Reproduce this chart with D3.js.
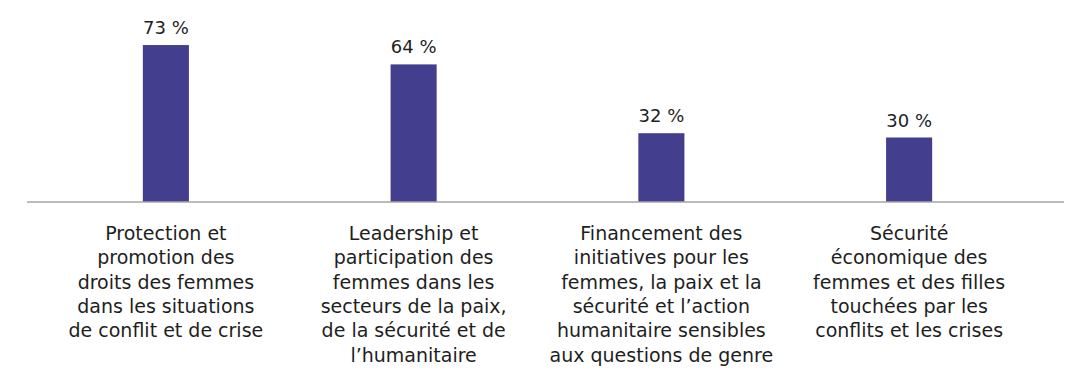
<!DOCTYPE html>
<html>
<head>
<meta charset="utf-8">
<script src="https://cdn.jsdelivr.net/npm/d3@7"></script>
<style>
  html, body { margin: 0; padding: 0; background: #fff; }
  svg { display: block; }
  text { font-family: "DejaVu Sans", "Noto Sans", sans-serif; fill: #1e1e1e; }
</style>
</head>
<body>
<svg id="chart" width="1085" height="371"></svg>
<script>
// Category labels, one entry per line of the wrapped label
const categories = [
  ["Protection et", "promotion des", "droits des femmes", "dans les situations", "de conflit et de crise"],
  ["Leadership et", "participation des", "femmes dans les", "secteurs de la paix,", "de la sécurité et de", "l’humanitaire"],
  ["Financement des", "initiatives pour les", "femmes, la paix et la", "sécurité et l’action", "humanitaire sensibles", "aux questions de genre"],
  ["Sécurité", "économique des", "femmes et des filles", "touchées par les", "conflits et les crises"]
];
const values = [73, 64, 32, 30];
const valueLabels = ["73 %", "64 %", "32 %", "30 %"];

const svg = d3.select("#chart");
const baseY = 202;
const keys = categories.map((c, i) => i);

const x = d3.scaleBand()
  .domain(keys)
  .range([42, 1033])
  .paddingInner(0.814)
  .paddingOuter(0.407);

const y = d3.scaleLinear()
  .domain([0, 100])
  .range([baseY, baseY - 215]);

// Bars
svg.append("g")
  .selectAll("rect")
  .data(values)
  .join("rect")
  .attr("x", (d, i) => x(i))
  .attr("y", d => y(d))
  .attr("width", x.bandwidth())
  .attr("height", d => y(0) - y(d))
  .attr("fill", "#433e8e");

// Baseline
svg.append("line")
  .attr("x1", 27).attr("x2", 1064)
  .attr("y1", baseY).attr("y2", baseY)
  .attr("stroke", "#a6a6a6")
  .attr("stroke-width", 1.5);

// Value labels above bars
svg.append("g")
  .selectAll("text")
  .data(values)
  .join("text")
  .attr("x", (d, i) => x(i) + x.bandwidth() / 2)
  .attr("y", d => y(d) - 11)
  .attr("text-anchor", "middle")
  .attr("font-size", 18)
  .text((d, i) => valueLabels[i]);

// Wrapped category labels under the axis
const cat = svg.append("g")
  .selectAll("text")
  .data(categories)
  .join("text")
  .attr("text-anchor", "middle")
  .attr("font-size", 19);

cat.selectAll("tspan")
  .data((lines, i) => lines.map(l => ({ l, i })))
  .join("tspan")
  .attr("x", d => x(d.i) + x.bandwidth() / 2)
  .attr("y", (d, j) => 240 + j * 24.3)
  .text(d => d.l);
</script>
</body>
</html>
